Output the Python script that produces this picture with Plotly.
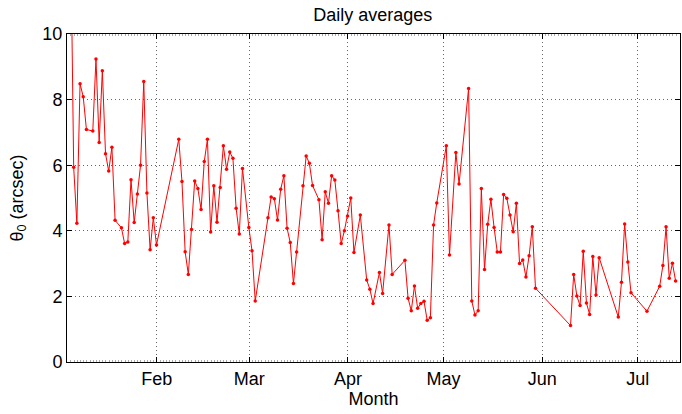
import pandas as pd
import plotly.graph_objects as go

# Day index (days after 31 Dec 2007, observation time ~21:00) and daily mean seeing
day_index = [4, 5, 6, 7, 8, 9, 11, 12, 13, 14, 15, 16, 17, 18, 20, 21, 22, 23, 24, 25,
             26, 27, 28, 29, 30, 31, 38, 39, 40, 41, 42, 43, 44, 45, 46, 47, 48, 49, 50, 51,
             52, 53, 54, 55, 56, 57, 58, 60, 61, 62, 66, 67, 68, 69, 70, 71, 72, 73, 74, 75,
             77, 78, 79, 80, 82, 83, 84, 85, 86, 87, 88, 89, 90, 91, 92, 93, 95, 97, 98, 99,
             101, 102, 104, 105, 109, 110, 111, 112, 113, 114, 115, 116, 117, 118, 119, 122,
             123, 125, 126, 129, 130, 131, 132, 133, 134, 135, 136, 137, 138, 139, 140, 141,
             142, 143, 144, 145, 146, 147, 148, 149, 150, 161, 162, 163, 164, 165, 166, 167,
             168, 169, 170, 176, 177, 178, 179, 180, 185, 189, 190, 191, 192, 193, 194]

theta0 = [13.5, 5.94, 4.23, 8.48, 8.09, 7.09, 7.04, 9.24, 6.69, 8.88, 6.35, 5.82, 6.55, 4.32,
          4.09, 3.61, 3.66, 5.56, 4.25, 5.12, 6.00, 8.55, 5.15, 3.42, 4.40, 3.57,
          6.79, 5.50, 3.36, 2.67, 4.04, 5.52, 5.29, 4.65, 6.11, 6.79, 3.96, 5.37, 4.26, 5.32,
          6.59, 5.88, 6.40, 6.21, 4.69, 3.90, 5.90, 4.10, 3.39, 1.86,
          4.40, 5.03, 4.98, 4.33, 5.27, 5.68, 4.08, 3.64, 2.39, 3.35,
          5.37, 6.28, 6.06, 5.38, 4.95, 3.73, 5.19, 4.84, 5.68, 5.55, 4.61, 3.61, 4.00, 4.45,
          5.00, 3.34, 4.48, 2.50, 2.22, 1.78,
          2.73, 2.09, 4.18, 2.67, 3.10, 1.94, 1.56, 2.32, 1.64, 1.78, 1.85, 1.27, 1.35, 4.18,
          4.85, 6.59,
          3.26, 6.39, 5.43, 8.34, 1.86, 1.43, 1.56, 5.29, 2.82, 4.20, 4.96, 4.10, 3.35, 3.35,
          5.11, 4.99,
          4.48, 3.97, 4.84, 3.00, 3.11, 2.59, 3.24, 4.12, 2.25, 1.11, 2.67, 2.01, 1.72, 3.38,
          1.80, 1.45,
          3.22, 2.04, 3.18, 1.37, 2.43, 4.21, 3.05, 2.11, 1.55, 2.31, 2.94, 4.12, 2.55, 3.01,
          2.47]

base = pd.Timestamp("2007-12-31 21:00")
dates = [base + pd.Timedelta(days=d) for d in day_index]

x_range = ["2008-01-03 18:40", "2008-07-14 06:00"]
y_ticks = [0, 2, 4, 6, 8, 10]

FONT = "Liberation Sans, Arial, Helvetica, sans-serif"

fig = go.Figure()
fig.add_trace(go.Scatter(
    x=dates, y=theta0, mode="lines+markers",
    line=dict(color="#ff0000", width=1),
    marker=dict(color="#ff0000", size=3.5, symbol="circle"),
    showlegend=False,
))

fig.update_layout(
    width=682, height=414,
    margin=dict(l=67, r=1.5, t=34, b=52),
    paper_bgcolor="white", plot_bgcolor="white",
    font=dict(family=FONT, size=18, color="black"),
    title=dict(text="Daily averages", x=0.5465, xanchor="center",
               y=1 - 15 / 414, yref="container", yanchor="middle",
               font=dict(family=FONT, size=18, color="black")),
)

fig.update_xaxes(
    type="date", range=x_range, automargin=False,
    tick0="2008-01-01", dtick="M1", tickformat="%b",
    ticks="inside", ticklen=5, tickwidth=1, tickcolor="black",
    showline=True, linecolor="black", linewidth=1, mirror="ticks",
    showgrid=True, gridcolor="#666666", gridwidth=1, griddash="1px,3px",
    zeroline=False,
    minor=dict(dtick=86400000, ticks="inside", ticklen=2, tickcolor="#aaaaaa",
               showgrid=False),
    title=dict(text="Month", standoff=0, font=dict(size=18)),
    tickfont=dict(size=18),
)

fig.update_yaxes(
    range=[0, 10], tickvals=y_ticks, automargin=False,
    ticks="inside", ticklen=5, tickwidth=1, tickcolor="black",
    showline=True, linecolor="black", linewidth=1, mirror="ticks",
    showgrid=True, gridcolor="#666666", gridwidth=1, griddash="1px,3px",
    zeroline=False,
    title=dict(text="θ<sub>0</sub> (arcsec)", standoff=14, font=dict(size=18)),
    tickfont=dict(size=18),
)

fig.write_html("out.html",
               config={"displayModeBar": False},
               post_script="document.body.style.margin='0';document.body.style.padding='0';")
